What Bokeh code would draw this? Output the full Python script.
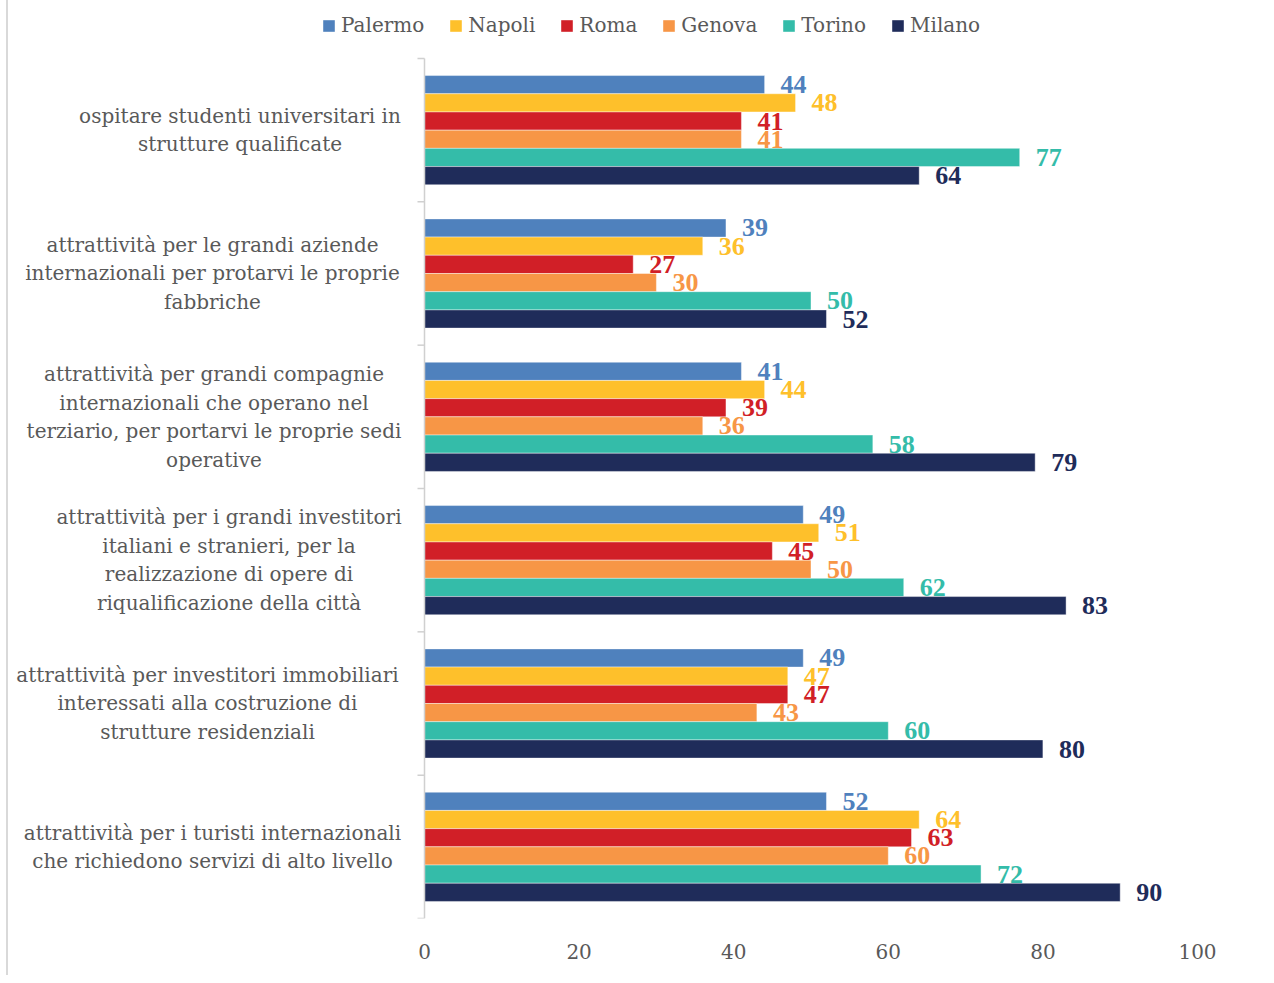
from bokeh.plotting import figure
from bokeh.models import (ColumnDataSource, FixedTicker, Legend, LegendItem,
                          LabelSet, Label, Range1d)
from bokeh.embed import file_html
from bokeh.resources import INLINE

categories = [
    "ospitare studenti universitari in\nstrutture qualificate",
    "attrattività per le grandi aziende\ninternazionali per protarvi le proprie\nfabbriche",
    "attrattività per grandi compagnie\ninternazionali che operano nel\nterziario, per portarvi le proprie sedi\noperative",
    "attrattività per i grandi investitori\nitaliani e stranieri, per la\nrealizzazione di opere di\nriqualificazione della città",
    "attrattività per investitori immobiliari\ninteressati alla costruzione di\nstrutture residenziali",
    "attrattività per i turisti internazionali\nche richiedono servizi di alto livello",
]
series = ["Palermo", "Napoli", "Roma", "Genova", "Torino", "Milano"]
palermo = [44, 39, 41, 49, 49, 52]
napoli = [48, 36, 44, 51, 47, 64]
roma = [41, 27, 39, 45, 47, 63]
genova = [41, 30, 36, 50, 43, 60]
torino = [77, 50, 58, 62, 60, 72]
milano = [64, 52, 79, 83, 80, 90]
values = [palermo, napoli, roma, genova, torino, milano]
x_ticks = [0, 20, 40, 60, 80, 100]

colors = ["#4F81BD", "#FEC02B", "#D11F27", "#F79646", "#34BCA9", "#1F2C5A"]
FONT = "DejaVu Serif"
BOLD_FONT = "Liberation Serif"
GRAY = "#595959"
AXIS_GRAY = "#D0D0D0"

# layout (pixels)
W, H = 1266, 975
PLOT_L, PLOT_R, PLOT_T, PLOT_B = 424, 1197, 58, 918
label_centers_px = [239.5, 212, 213.5, 228.5, 207, 212]

n = len(categories)
bar_h = 0.127
x_min, x_max = 0, 100
px_per_x = (PLOT_R - PLOT_L) / (x_max - x_min)
px_per_y = (PLOT_B - PLOT_T) / n
x_range = Range1d(x_min - PLOT_L / px_per_x, x_max + (W - PLOT_R) / px_per_x)
y_range = Range1d(-0.5, n - 0.5 + PLOT_T / px_per_y)

p = figure(width=W, height=H, output_backend="svg", toolbar_location=None,
           x_range=x_range, y_range=y_range, y_axis_location=None,
           min_border_left=0, min_border_right=0, min_border_top=0,
           min_border_bottom=H - PLOT_B)
p.outline_line_color = None
p.xgrid.visible = False
p.ygrid.visible = False
p.background_fill_color = None
p.border_fill_color = None
p.styles = {"background": "linear-gradient(to right, white 6px, #D9D9D9 6px, #D9D9D9 8px, white 8px)"}

renderers = []
for j, (name, vals, col) in enumerate(zip(series, values, colors)):
    ys = [(n - 1 - i) + (2.5 - j) * bar_h for i in range(n)]
    src = ColumnDataSource(dict(y=ys, v=vals, t=[str(v) for v in vals]))
    r = p.hbar(y="y", right="v", left=0, height=bar_h, source=src,
               fill_color=col, line_color="white", line_width=0.6, line_alpha=0.7)
    renderers.append(r)
    p.add_layout(LabelSet(x="v", y="y", text="t", source=src, x_offset=16,
                          text_align="left", text_baseline="middle",
                          text_font=BOLD_FONT, text_font_size="26px", text_font_style="bold",
                          text_color=col))

# category axis (line + separator ticks)
tick_len = 7 / px_per_x
bounds = [k - 0.5 for k in range(n + 1)]
p.segment(x0=[0], y0=[-0.5], x1=[0], y1=[n - 0.5], line_color=AXIS_GRAY, line_width=1.5)
p.segment(x0=[-tick_len] * len(bounds), y0=bounds, x1=[0] * len(bounds), y1=bounds,
          line_color=AXIS_GRAY, line_width=1.5)

for i, cat in enumerate(categories):
    p.add_layout(Label(x=label_centers_px[i], x_units="screen", y=n - 1 - i, y_units="data",
                       text=cat, text_align="center", text_baseline="middle",
                       text_font=FONT, text_font_size="20px", text_color=GRAY,
                       text_line_height=1.19))

# x axis
p.xaxis.ticker = FixedTicker(ticks=x_ticks)
p.xaxis.axis_line_color = None
p.xaxis.major_tick_line_color = None
p.xaxis.minor_tick_line_color = None
p.xaxis.major_label_standoff = 19
p.xaxis.major_label_text_font = FONT
p.xaxis.major_label_text_font_size = "20px"
p.xaxis.major_label_text_color = GRAY

legend = Legend(items=[LegendItem(label=s, renderers=[r]) for s, r in zip(series, renderers)],
                orientation="horizontal", location=(321, H - (H - PLOT_B) - 37),
                glyph_width=15, glyph_height=15, label_standoff=5, spacing=24,
                padding=0, margin=0, border_line_color=None, background_fill_alpha=0,
                label_text_font=FONT, label_text_font_size="20px", label_text_color=GRAY,
                label_height=15)
p.add_layout(legend)

open("out.html", "w").write(file_html(p, INLINE))
